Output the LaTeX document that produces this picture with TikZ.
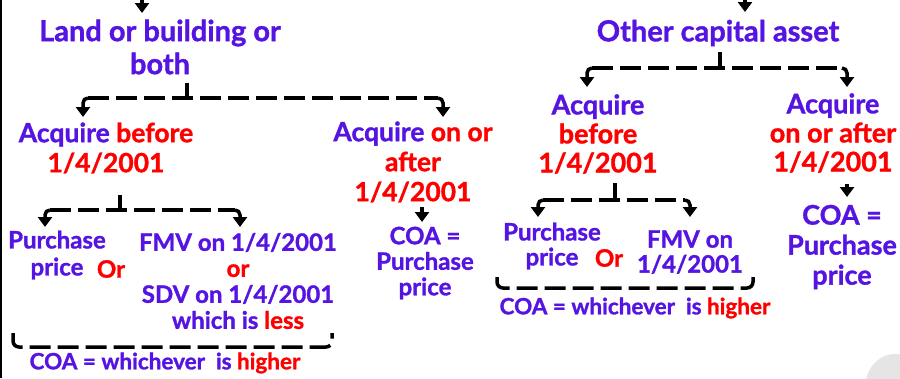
\documentclass[tikz,border=0pt]{standalone}
\usepackage{fontspec}
\setmainfont{Lato}[BoldFeatures={FakeBold=1.2}]
\usepackage{xcolor}
\usepackage{tikz}
\usetikzlibrary{arrows.meta}
\definecolor{ink}{RGB}{85,20,225}
\definecolor{hot}{RGB}{255,0,0}
\newcommand{\hot}[1]{\textcolor{hot}{#1}}
\newcommand{\fs}[2]{\fontsize{#1}{#2}\selectfont}

\begin{document}
\begin{tikzpicture}[
  x=1pt, y=-1pt,
  every node/.style={
    inner sep=0pt, align=center, text=ink, font=\bfseries
  },
  arr/.style={-{Triangle[width=14pt,length=10pt]}, line width=3.5pt, rounded corners=5pt},
  dsh/.style={line width=3.5pt, dash pattern=on 21pt off 7pt, rounded corners=6pt},
  stem/.style={line width=3.5pt}
]
\useasboundingbox (0,0) rectangle (900,378);
\draw[line width=2.5pt] (1.2,0) -- (1.2,378);
\fill[black!10] (895,388) ellipse [x radius=30, y radius=34];

% left tree
\node[font=\bfseries\fs{29}{33}] (land) at (160,47) {Land or building or\\both};
\node[font=\bfseries\fs{26.5}{30}] (acqB) at (106,148) {Acquire \hot{before}\\\hot{1/4/2001}};
\node[font=\bfseries\fs{26.5}{30}] (acqA) at (413,162) {Acquire \hot{on or}\\\hot{after}\\\hot{1/4/2001}};
\node[font=\bfseries\fs{24}{25.5}] (coaA) at (425,263) {COA =\\Purchase\\price};
\node[font=\bfseries\fs{24}{27}] (pp) at (57,255) {Purchase\\price};
\node[font=\bfseries\fs{24}{27}, text=hot] (orL) at (111,269) {Or};
\node[font=\bfseries\fs{24}{26}] (fmv) at (238,281) {FMV on 1/4/2001\\\hot{or}\\SDV on 1/4/2001\\which is \hot{less}};
\node[font=\bfseries\fs{22.5}{24}] (coaL) at (165,363) {COA = whichever\ \ is \hot{higher}};

\coordinate (inL) at (142,0);
\coordinate (j1) at (187,98);
\coordinate (j1a) at (88,98);
\coordinate (j1b) at (438,98);
\coordinate (j4) at (120,210);
\coordinate (j4a) at (50,210);
\coordinate (j4b) at (235,210);
\coordinate (jA) at (422,207);
\coordinate (brL) at (13,333);
\coordinate (brR) at (332,333);

\draw[arr] (inL) -- ++(0,13);
\draw[stem] (j1) -- ++(0,-15);
\draw[dsh] (j1a) -- (j1b);
\draw[arr] (j1a) -| (83,117);
\draw[arr] (j1b) -| (443,117);
\draw[stem] (j4) -- ++(0,-15);
\draw[dsh] (j4a) -- (j4b);
\draw[arr] (j4a) -| (45,227);
\draw[arr] (j4b) -| (240,227);
\draw[arr] (jA) -- ++(0,15);
\draw[dsh] (brL) |- (332,347) -- (brR);

% right tree
\node[font=\bfseries\fs{29}{30}] (other) at (718,33) {Other capital asset};
\node[font=\bfseries\fs{27}{29}] (acqB2) at (598,134) {Acquire\\\hot{before}\\\hot{1/4/2001}};
\node[font=\bfseries\fs{27}{29}] (acqA2) at (833,133) {Acquire\\\hot{on or after}\\\hot{1/4/2001}};
\node[font=\bfseries\fs{27}{30}] (coaR) at (842,247) {COA =\\Purchase\\price};
\node[font=\bfseries\fs{24}{25}] (pp2) at (552,246) {Purchase\\price};
\node[font=\bfseries\fs{24}{25}, text=hot] (orR) at (609,258) {Or};
\node[font=\bfseries\fs{24}{25}] (fmv2) at (690,252) {FMV on\\1/4/2001};
\node[font=\bfseries\fs{22.5}{24}] (coaR2) at (635,308) {COA = whichever\ \ is \hot{higher}};

\coordinate (inR) at (745,0);
\coordinate (j2) at (720,68);
\coordinate (j2a) at (592,68);
\coordinate (j2b) at (842,68);
\coordinate (j3) at (615,200);
\coordinate (j3a) at (543,200);
\coordinate (j3b) at (685,200);
\coordinate (jB) at (847,184);
\coordinate (brL2) at (497,277);
\coordinate (brR2) at (753,277);

\draw[arr] (inR) -- ++(0,12);
\draw[stem] (j2) -- ++(0,-16);
\draw[dsh] (j2a) -- (j2b);
\draw[arr] (j2a) -| (587,87);
\draw[arr] (j2b) -| (847,87);
\draw[arr] (jB) -- ++(0,13);
\draw[stem] (j3) -- ++(0,-17);
\draw[dsh] (j3a) -- (j3b);
\draw[arr] (j3a) -| (538,217);
\draw[arr] (j3b) -| (690,217);
\draw[dsh] (brL2) |- (753,288) -- (brR2);
\end{tikzpicture}
\end{document}
